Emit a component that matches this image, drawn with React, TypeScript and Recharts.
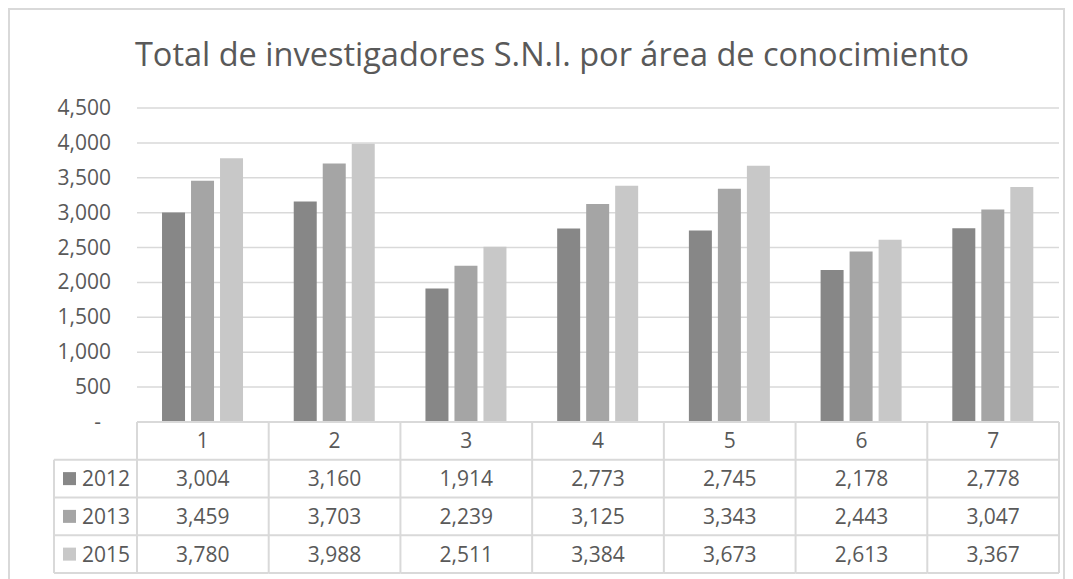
import { Bar, BarChart, CartesianGrid, XAxis, YAxis } from "recharts";

const areas = ["1", "2", "3", "4", "5", "6", "7"];
const years = ["2012", "2013", "2015"];
const values2012 = [3004, 3160, 1914, 2773, 2745, 2178, 2778];
const values2013 = [3459, 3703, 2239, 3125, 3343, 2443, 3047];
const values2015 = [3780, 3988, 2511, 3384, 3673, 2613, 3367];
const yTicks = [0, 500, 1000, 1500, 2000, 2500, 3000, 3500, 4000, 4500];
const colors = ["#878787", "#a5a5a5", "#c8c8c8"];

const series = [values2012, values2013, values2015];
const data = areas.map((name, i) => ({
  name,
  y2012: values2012[i],
  y2013: values2013[i],
  y2015: values2015[i],
}));

const FONT = "'Open Sans', sans-serif";
const TEXT = "#595959";
const LINE = "#d9d9d9";
const W = 1073;
const H = 579;
const COL_W = (1059 - 137) / areas.length;
const ROW_H = 37.75;
const LEGEND_W = 83;

const fmt = (v: number) => v.toLocaleString("en-US");

function YTick({ x, y, payload }: any) {
  const v = payload.value as number;
  return (
    <text
      x={v === 0 ? x - 10 : x}
      y={y}
      dy={7}
      textAnchor="end"
      fill={TEXT}
      fontSize={21}
      fontFamily={FONT}
    >
      {v === 0 ? "-" : fmt(v)}
    </text>
  );
}

// each x tick draws one column of the data table under the plot
function TableTick({ x, y, payload, index }: any) {
  const left = x - COL_W / 2;
  const right = x + COL_W / 2;
  const bottom = y + ROW_H * 4;
  return (
    <g>
      <line x1={left} x2={right} y1={y} y2={y} stroke={LINE} strokeWidth={2} />
      {[1, 2, 3, 4].map((r) => (
        <line key={r} x1={left} x2={right} y1={y + ROW_H * r} y2={y + ROW_H * r} stroke={LINE} strokeWidth={2} />
      ))}
      <line x1={right} x2={right} y1={y} y2={bottom} stroke={LINE} strokeWidth={2} />
      {index === 0 && (
        <g>
          <line x1={left} x2={left} y1={y} y2={bottom} stroke={LINE} strokeWidth={2} />
          <line x1={left - LEGEND_W} x2={left - LEGEND_W} y1={y + ROW_H} y2={bottom} stroke={LINE} strokeWidth={2} />
          {[1, 2, 3, 4].map((r) => (
            <line key={r} x1={left - LEGEND_W} x2={left} y1={y + ROW_H * r} y2={y + ROW_H * r} stroke={LINE} strokeWidth={2} />
          ))}
          {years.map((yr, i) => (
            <g key={yr}>
              <rect x={left - 74} y={y + ROW_H * (i + 1.5) - 6.5} width={13} height={13} fill={colors[i]} />
              <text
                x={left - 55}
                y={y + ROW_H * (i + 1.5)}
                dy={7.5}
                fill={TEXT}
                fontSize={21}
                fontFamily={FONT}
              >
                {yr}
              </text>
            </g>
          ))}
        </g>
      )}
      <text x={x} y={y + ROW_H * 0.5} dy={7.5} textAnchor="middle" fill={TEXT} fontSize={21} fontFamily={FONT}>
        {payload.value}
      </text>
      {series.map((s, i) => (
        <text
          key={i}
          x={x}
          y={y + ROW_H * (i + 1.5)}
          dy={7.5}
          textAnchor="middle"
          fill={TEXT}
          fontSize={21}
          fontFamily={FONT}
        >
          {fmt(s[payload.index ?? index])}
        </text>
      ))}
    </g>
  );
}

export default function App() {
  return (
    <div style={{ position: "absolute", left: 0, top: 0, width: W, height: H, background: "#fff", overflow: "hidden" }}>
      <BarChart
        width={W}
        height={H}
        data={data}
        margin={{ top: 108, right: 14, bottom: 6, left: 0 }}
        barGap={6}
        barCategoryGap="19%"
      >
        <CartesianGrid vertical={false} stroke={LINE} strokeWidth={1.5} />
        <XAxis
          dataKey="name"
          axisLine={false}
          tickLine={false}
          tickSize={0}
          tickMargin={0}
          height={151}
          interval={0}
          tick={<TableTick />}
        />
        <YAxis
          domain={[0, 4500]}
          ticks={yTicks}
          width={137}
          axisLine={false}
          tickLine={false}
          tickMargin={20}
          interval={0}
          tick={<YTick />}
        />
        <Bar dataKey="y2012" fill={colors[0]} isAnimationActive={false} />
        <Bar dataKey="y2013" fill={colors[1]} isAnimationActive={false} />
        <Bar dataKey="y2015" fill={colors[2]} isAnimationActive={false} />
      </BarChart>
      <svg width={W} height={H} style={{ position: "absolute", left: 0, top: 0, pointerEvents: "none" }}>
        <rect x={9} y={9} width={1055} height={H + 20} fill="none" stroke={LINE} strokeWidth={2} />
        <text x={552} y={66} textAnchor="middle" fill={TEXT} fontSize={32.5} fontFamily={FONT}>
          Total de investigadores S.N.I. por área de conocimiento
        </text>
      </svg>
    </div>
  );
}
